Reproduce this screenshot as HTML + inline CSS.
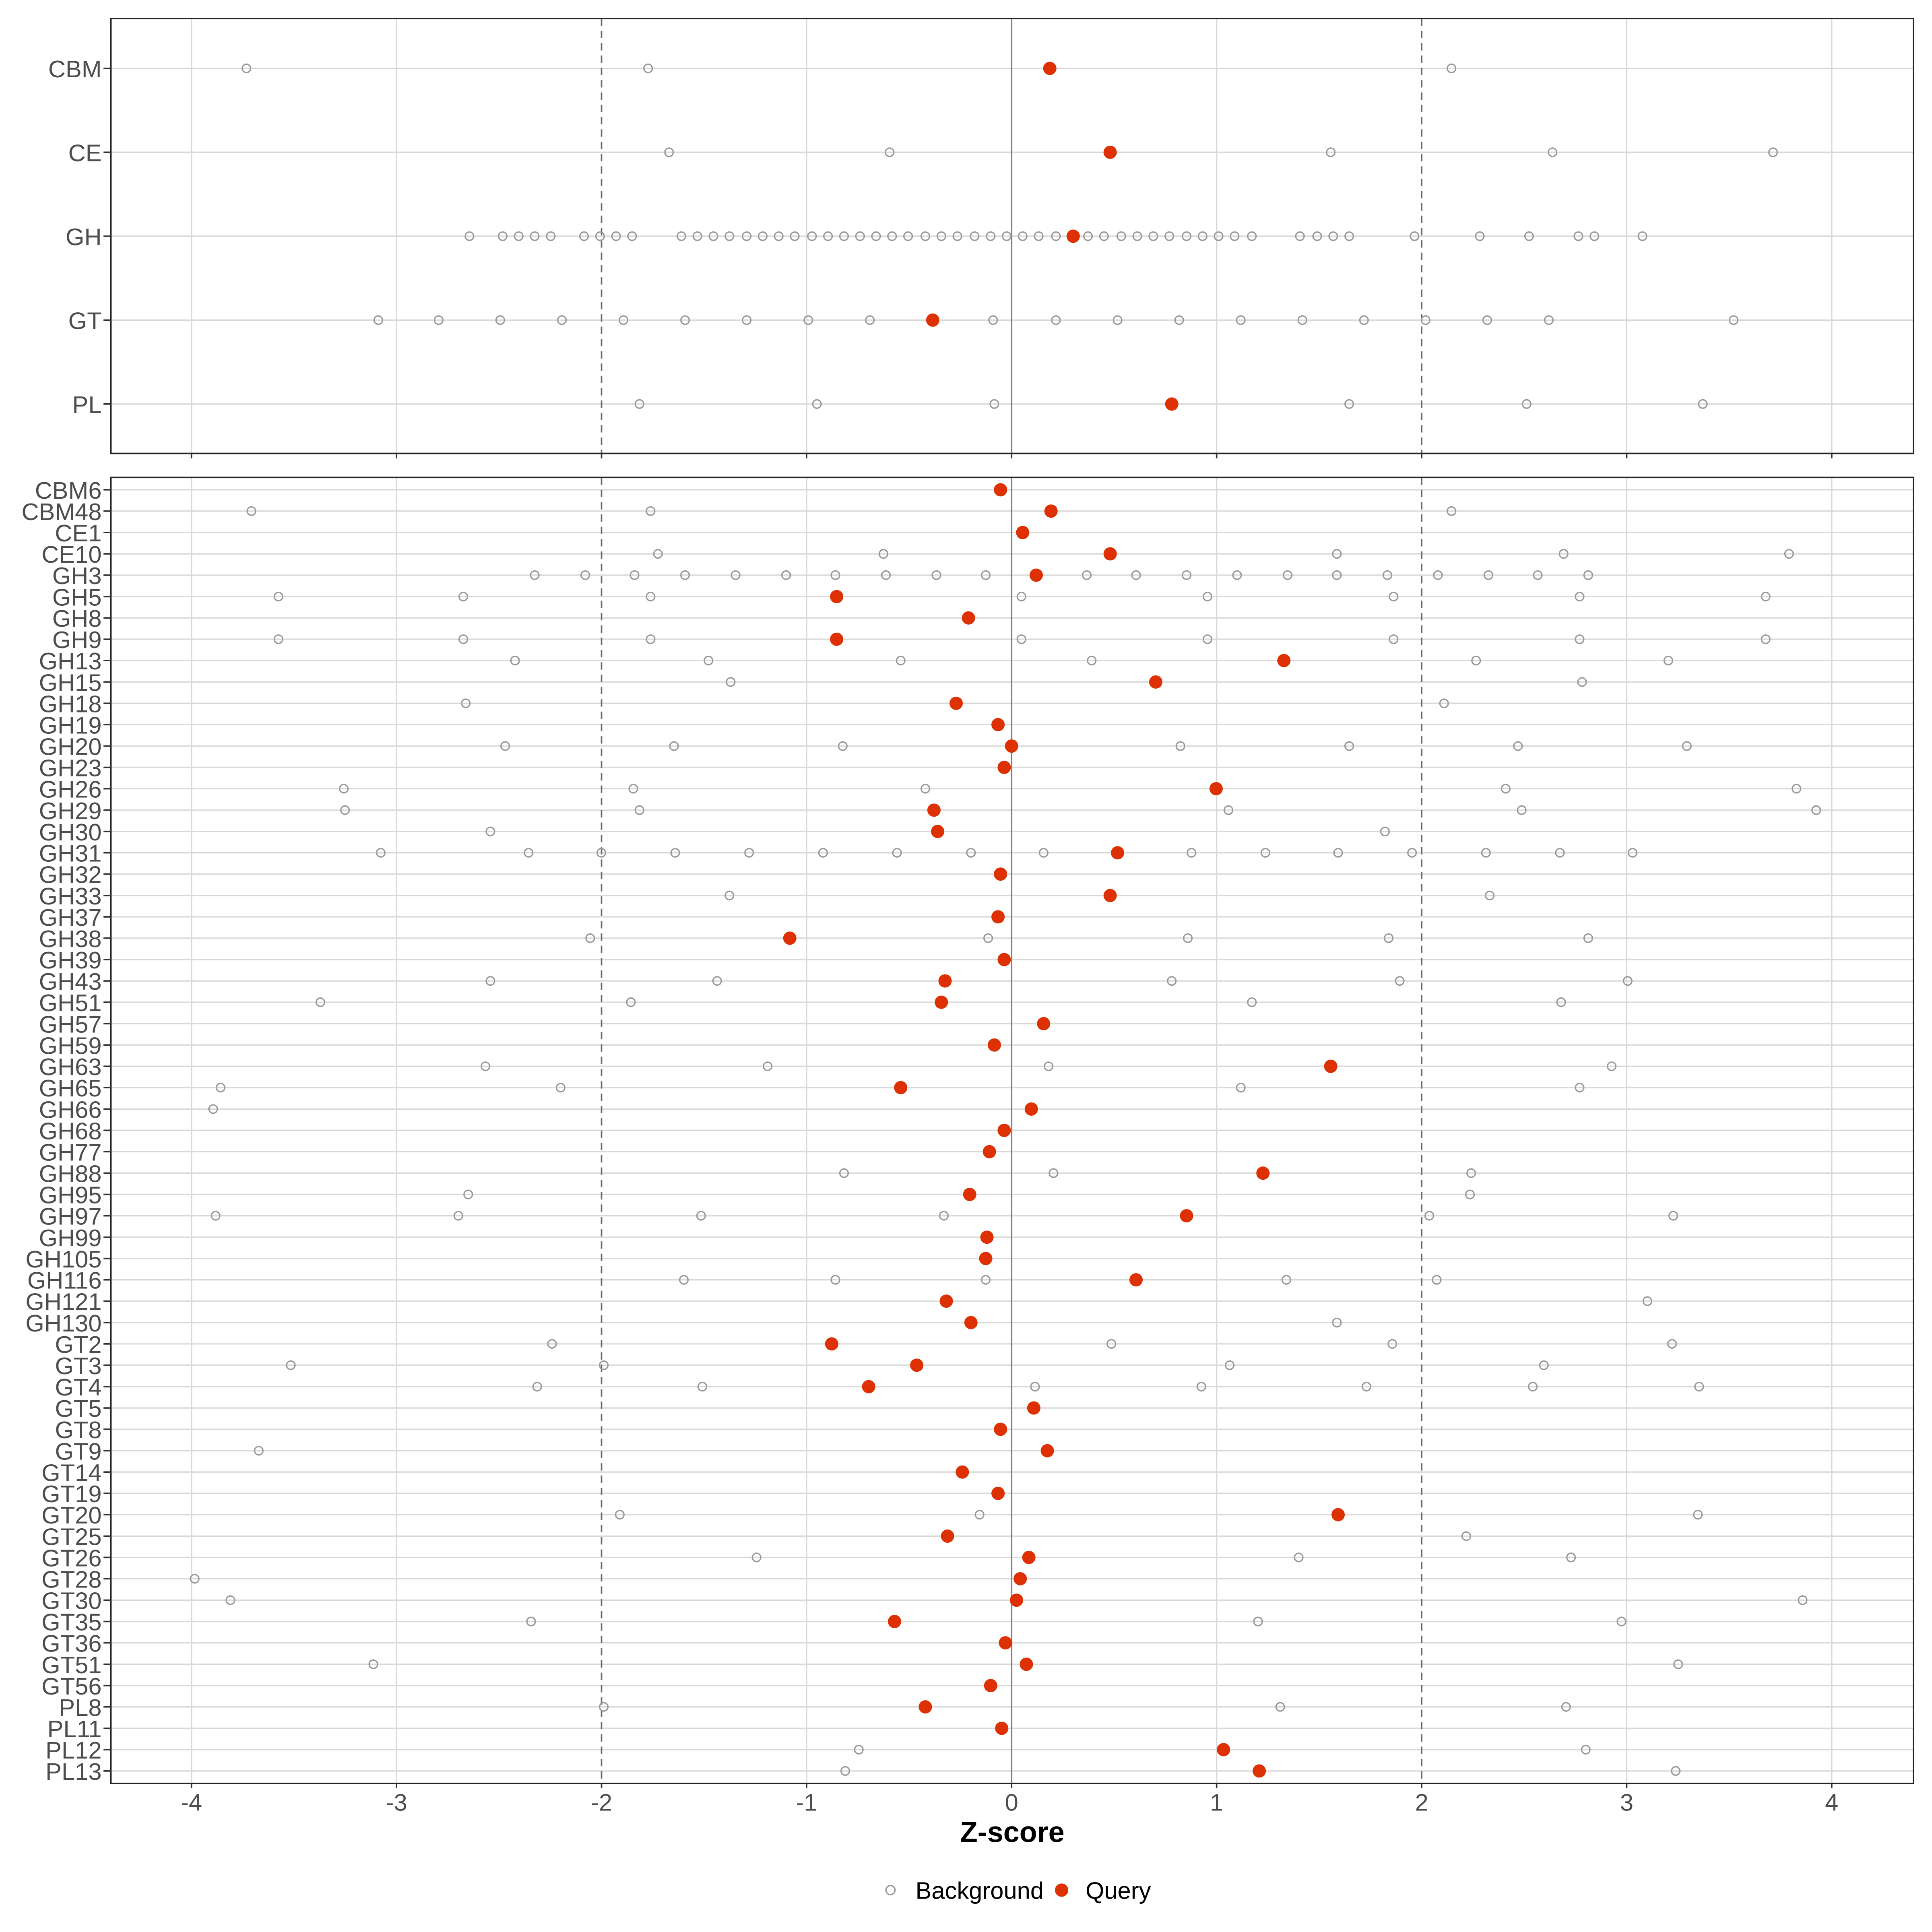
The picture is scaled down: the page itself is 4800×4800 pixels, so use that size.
<!DOCTYPE html>
<html><head><meta charset="utf-8"><style>
html,body{margin:0;padding:0;background:#fff}
svg{display:block}
.g{stroke:#d9d9d9;stroke-width:1.1}
.b{fill:none;stroke:#9a9a9a;stroke-width:1.1}
.q{fill:#dd3104}
text{font-family:"Liberation Sans",sans-serif}
.yl{font-size:19.5px;fill:#4d4d4d;text-anchor:end}
.xl{font-size:19.5px;fill:#4d4d4d;text-anchor:middle}
</style></head><body>
<svg width="4800" height="4800" viewBox="0 0 1568 1568" xmlns="http://www.w3.org/2000/svg">
<rect width="1568" height="1568" fill="#fff"/>
<defs>
<g id="vg">
<line x1="155.4" x2="155.4" class="g" y1="0" y2="1"/>
</g>
</defs>
<!-- TOP PANEL -->
<g>
<g stroke="#d9d9d9" stroke-width="1.1">
<line x1="155.4" x2="155.4" y1="15" y2="368"/><line x1="321.8" x2="321.8" y1="15" y2="368"/><line x1="654.6" x2="654.6" y1="15" y2="368"/><line x1="987.4" x2="987.4" y1="15" y2="368"/><line x1="1320.2" x2="1320.2" y1="15" y2="368"/><line x1="1486.6" x2="1486.6" y1="15" y2="368"/>
<line x1="90" x2="1553" y1="55.5" y2="55.5"/><line x1="90" x2="1553" y1="123.6" y2="123.6"/><line x1="90" x2="1553" y1="191.7" y2="191.7"/><line x1="90" x2="1553" y1="259.8" y2="259.8"/><line x1="90" x2="1553" y1="327.9" y2="327.9"/>
</g>
<line x1="821" x2="821" y1="15" y2="368" stroke="#808080" stroke-width="1.2"/>
<line x1="488.2" x2="488.2" y1="15" y2="368" stroke="#666" stroke-width="1.2" stroke-dasharray="6,4"/>
<line x1="1153.8" x2="1153.8" y1="15" y2="368" stroke="#666" stroke-width="1.2" stroke-dasharray="6,4"/>
<g transform="translate(0,55.5)"><circle class="b" cx="200" r="3.4"/><circle class="b" cx="526" r="3.4"/><circle class="b" cx="1178" r="3.4"/><circle class="q" cx="852" r="5.4"/></g>
<g transform="translate(0,123.6)"><circle class="b" cx="543" r="3.4"/><circle class="b" cx="722" r="3.4"/><circle class="b" cx="1080" r="3.4"/><circle class="b" cx="1260" r="3.4"/><circle class="b" cx="1439" r="3.4"/><circle class="q" cx="901" r="5.4"/></g>
<g transform="translate(0,191.7)">
<circle class="b" cx="381" r="3.4"/><circle class="b" cx="408" r="3.4"/><circle class="b" cx="421" r="3.4"/><circle class="b" cx="434" r="3.4"/><circle class="b" cx="447" r="3.4"/><circle class="b" cx="474" r="3.4"/><circle class="b" cx="487" r="3.4"/><circle class="b" cx="500" r="3.4"/><circle class="b" cx="513" r="3.4"/><circle class="b" cx="553" r="3.4"/><circle class="b" cx="566" r="3.4"/><circle class="b" cx="579" r="3.4"/><circle class="b" cx="592" r="3.4"/><circle class="b" cx="606" r="3.4"/><circle class="b" cx="619" r="3.4"/><circle class="b" cx="632" r="3.4"/><circle class="b" cx="645" r="3.4"/><circle class="b" cx="659" r="3.4"/><circle class="b" cx="672" r="3.4"/><circle class="b" cx="685" r="3.4"/><circle class="b" cx="698" r="3.4"/><circle class="b" cx="711" r="3.4"/><circle class="b" cx="724" r="3.4"/><circle class="b" cx="737" r="3.4"/><circle class="b" cx="751" r="3.4"/><circle class="b" cx="764" r="3.4"/><circle class="b" cx="777" r="3.4"/><circle class="b" cx="791" r="3.4"/><circle class="b" cx="804" r="3.4"/><circle class="b" cx="817" r="3.4"/><circle class="b" cx="830" r="3.4"/><circle class="b" cx="843" r="3.4"/><circle class="b" cx="857" r="3.4"/><circle class="b" cx="883" r="3.4"/><circle class="b" cx="896" r="3.4"/><circle class="b" cx="910" r="3.4"/><circle class="b" cx="923" r="3.4"/><circle class="b" cx="936" r="3.4"/><circle class="b" cx="949" r="3.4"/><circle class="b" cx="963" r="3.4"/><circle class="b" cx="976" r="3.4"/><circle class="b" cx="989" r="3.4"/><circle class="b" cx="1002" r="3.4"/><circle class="b" cx="1016" r="3.4"/><circle class="b" cx="1055" r="3.4"/><circle class="b" cx="1069" r="3.4"/><circle class="b" cx="1082" r="3.4"/><circle class="b" cx="1095" r="3.4"/><circle class="b" cx="1148" r="3.4"/><circle class="b" cx="1201" r="3.4"/><circle class="b" cx="1241" r="3.4"/><circle class="b" cx="1281" r="3.4"/><circle class="b" cx="1294" r="3.4"/><circle class="b" cx="1333" r="3.4"/><circle class="q" cx="871" r="5.4"/></g>
<g transform="translate(0,259.8)"><circle class="b" cx="307" r="3.4"/><circle class="b" cx="356" r="3.4"/><circle class="b" cx="406" r="3.4"/><circle class="b" cx="456" r="3.4"/><circle class="b" cx="506" r="3.4"/><circle class="b" cx="556" r="3.4"/><circle class="b" cx="606" r="3.4"/><circle class="b" cx="656" r="3.4"/><circle class="b" cx="706" r="3.4"/><circle class="b" cx="806" r="3.4"/><circle class="b" cx="857" r="3.4"/><circle class="b" cx="907" r="3.4"/><circle class="b" cx="957" r="3.4"/><circle class="b" cx="1007" r="3.4"/><circle class="b" cx="1057" r="3.4"/><circle class="b" cx="1107" r="3.4"/><circle class="b" cx="1157" r="3.4"/><circle class="b" cx="1207" r="3.4"/><circle class="b" cx="1257" r="3.4"/><circle class="b" cx="1407" r="3.4"/><circle class="q" cx="757" r="5.4"/></g>
<g transform="translate(0,327.9)"><circle class="b" cx="519" r="3.4"/><circle class="b" cx="663" r="3.4"/><circle class="b" cx="807" r="3.4"/><circle class="b" cx="1095" r="3.4"/><circle class="b" cx="1239" r="3.4"/><circle class="b" cx="1382" r="3.4"/><circle class="q" cx="951" r="5.4"/></g>
<rect x="90" y="15" width="1463" height="353" fill="none" stroke="#222" stroke-width="1.2"/>
<g stroke="#333" stroke-width="1.2">
<line x1="84" x2="90" y1="55.5" y2="55.5"/><line x1="84" x2="90" y1="123.6" y2="123.6"/><line x1="84" x2="90" y1="191.7" y2="191.7"/><line x1="84" x2="90" y1="259.8" y2="259.8"/><line x1="84" x2="90" y1="327.9" y2="327.9"/>
<line x1="155.4" x2="155.4" y1="368" y2="372"/><line x1="321.8" x2="321.8" y1="368" y2="372"/><line x1="488.2" x2="488.2" y1="368" y2="372"/><line x1="654.6" x2="654.6" y1="368" y2="372"/><line x1="821" x2="821" y1="368" y2="372"/><line x1="987.4" x2="987.4" y1="368" y2="372"/><line x1="1153.8" x2="1153.8" y1="368" y2="372"/><line x1="1320.2" x2="1320.2" y1="368" y2="372"/><line x1="1486.6" x2="1486.6" y1="368" y2="372"/>
</g>
<text class="yl" x="82.5" y="62.7">CBM</text><text class="yl" x="82.5" y="130.8">CE</text><text class="yl" x="82.5" y="198.9">GH</text><text class="yl" x="82.5" y="267">GT</text><text class="yl" x="82.5" y="335.1">PL</text>
</g>

<!-- BOTTOM PANEL -->
<g>
<g stroke="#d9d9d9" stroke-width="1.1">
<line x1="155.4" x2="155.4" y1="387.5" y2="1447.4"/><line x1="321.8" x2="321.8" y1="387.5" y2="1447.4"/><line x1="654.6" x2="654.6" y1="387.5" y2="1447.4"/><line x1="987.4" x2="987.4" y1="387.5" y2="1447.4"/><line x1="1320.2" x2="1320.2" y1="387.5" y2="1447.4"/><line x1="1486.6" x2="1486.6" y1="387.5" y2="1447.4"/>
</g>
<g stroke="#d9d9d9" stroke-width="1.1">
<line x1="90" x2="1553" y1="397.5" y2="397.5"/><line x1="90" x2="1553" y1="414.8" y2="414.8"/><line x1="90" x2="1553" y1="432.2" y2="432.2"/><line x1="90" x2="1553" y1="449.5" y2="449.5"/><line x1="90" x2="1553" y1="466.8" y2="466.8"/><line x1="90" x2="1553" y1="484.2" y2="484.2"/><line x1="90" x2="1553" y1="501.5" y2="501.5"/><line x1="90" x2="1553" y1="518.8" y2="518.8"/><line x1="90" x2="1553" y1="536.1" y2="536.1"/><line x1="90" x2="1553" y1="553.5" y2="553.5"/><line x1="90" x2="1553" y1="570.8" y2="570.8"/><line x1="90" x2="1553" y1="588.1" y2="588.1"/><line x1="90" x2="1553" y1="605.5" y2="605.5"/><line x1="90" x2="1553" y1="622.8" y2="622.8"/><line x1="90" x2="1553" y1="640.1" y2="640.1"/><line x1="90" x2="1553" y1="657.5" y2="657.5"/><line x1="90" x2="1553" y1="674.8" y2="674.8"/><line x1="90" x2="1553" y1="692.1" y2="692.1"/><line x1="90" x2="1553" y1="709.4" y2="709.4"/><line x1="90" x2="1553" y1="726.8" y2="726.8"/><line x1="90" x2="1553" y1="744.1" y2="744.1"/><line x1="90" x2="1553" y1="761.4" y2="761.4"/><line x1="90" x2="1553" y1="778.8" y2="778.8"/><line x1="90" x2="1553" y1="796.1" y2="796.1"/><line x1="90" x2="1553" y1="813.4" y2="813.4"/><line x1="90" x2="1553" y1="830.8" y2="830.8"/><line x1="90" x2="1553" y1="848.1" y2="848.1"/><line x1="90" x2="1553" y1="865.4" y2="865.4"/><line x1="90" x2="1553" y1="882.7" y2="882.7"/><line x1="90" x2="1553" y1="900.1" y2="900.1"/><line x1="90" x2="1553" y1="917.4" y2="917.4"/><line x1="90" x2="1553" y1="934.7" y2="934.7"/><line x1="90" x2="1553" y1="952.1" y2="952.1"/><line x1="90" x2="1553" y1="969.4" y2="969.4"/><line x1="90" x2="1553" y1="986.7" y2="986.7"/><line x1="90" x2="1553" y1="1004.1" y2="1004.1"/><line x1="90" x2="1553" y1="1021.4" y2="1021.4"/><line x1="90" x2="1553" y1="1038.7" y2="1038.7"/><line x1="90" x2="1553" y1="1056" y2="1056"/><line x1="90" x2="1553" y1="1073.4" y2="1073.4"/><line x1="90" x2="1553" y1="1090.7" y2="1090.7"/><line x1="90" x2="1553" y1="1108" y2="1108"/><line x1="90" x2="1553" y1="1125.4" y2="1125.4"/><line x1="90" x2="1553" y1="1142.7" y2="1142.7"/><line x1="90" x2="1553" y1="1160" y2="1160"/><line x1="90" x2="1553" y1="1177.4" y2="1177.4"/><line x1="90" x2="1553" y1="1194.7" y2="1194.7"/><line x1="90" x2="1553" y1="1212" y2="1212"/><line x1="90" x2="1553" y1="1229.3" y2="1229.3"/><line x1="90" x2="1553" y1="1246.7" y2="1246.7"/><line x1="90" x2="1553" y1="1264" y2="1264"/><line x1="90" x2="1553" y1="1281.3" y2="1281.3"/><line x1="90" x2="1553" y1="1298.7" y2="1298.7"/><line x1="90" x2="1553" y1="1316" y2="1316"/><line x1="90" x2="1553" y1="1333.3" y2="1333.3"/><line x1="90" x2="1553" y1="1350.7" y2="1350.7"/><line x1="90" x2="1553" y1="1368" y2="1368"/><line x1="90" x2="1553" y1="1385.3" y2="1385.3"/><line x1="90" x2="1553" y1="1402.7" y2="1402.7"/><line x1="90" x2="1553" y1="1420" y2="1420"/><line x1="90" x2="1553" y1="1437.3" y2="1437.3"/>
</g>
<line x1="821" x2="821" y1="387.5" y2="1447.4" stroke="#808080" stroke-width="1.2"/>
<line x1="488.2" x2="488.2" y1="387.5" y2="1447.4" stroke="#666" stroke-width="1.2" stroke-dasharray="6,4"/>
<line x1="1153.8" x2="1153.8" y1="387.5" y2="1447.4" stroke="#666" stroke-width="1.2" stroke-dasharray="6,4"/>

<g transform="translate(0,397.5)"><circle class="q" cx="812" r="5.4"/></g>
<g transform="translate(0,414.8)"><circle class="b" cx="204" r="3.4"/><circle class="b" cx="528" r="3.4"/><circle class="b" cx="1178" r="3.4"/><circle class="q" cx="853" r="5.4"/></g>
<g transform="translate(0,432.2)"><circle class="q" cx="830" r="5.4"/></g>
<g transform="translate(0,449.5)"><circle class="b" cx="534" r="3.4"/><circle class="b" cx="717" r="3.4"/><circle class="b" cx="1085" r="3.4"/><circle class="b" cx="1269" r="3.4"/><circle class="b" cx="1452" r="3.4"/><circle class="q" cx="901" r="5.4"/></g>
<g transform="translate(0,466.8)"><circle class="b" cx="434" r="3.4"/><circle class="b" cx="475" r="3.4"/><circle class="b" cx="515" r="3.4"/><circle class="b" cx="556" r="3.4"/><circle class="b" cx="597" r="3.4"/><circle class="b" cx="638" r="3.4"/><circle class="b" cx="678" r="3.4"/><circle class="b" cx="719" r="3.4"/><circle class="b" cx="760" r="3.4"/><circle class="b" cx="800" r="3.4"/><circle class="b" cx="882" r="3.4"/><circle class="b" cx="922" r="3.4"/><circle class="b" cx="963" r="3.4"/><circle class="b" cx="1004" r="3.4"/><circle class="b" cx="1045" r="3.4"/><circle class="b" cx="1085" r="3.4"/><circle class="b" cx="1126" r="3.4"/><circle class="b" cx="1167" r="3.4"/><circle class="b" cx="1208" r="3.4"/><circle class="b" cx="1248" r="3.4"/><circle class="b" cx="1289" r="3.4"/><circle class="q" cx="841" r="5.4"/></g>
<g transform="translate(0,484.2)"><circle class="b" cx="226" r="3.4"/><circle class="b" cx="376" r="3.4"/><circle class="b" cx="528" r="3.4"/><circle class="b" cx="829" r="3.4"/><circle class="b" cx="980" r="3.4"/><circle class="b" cx="1131" r="3.4"/><circle class="b" cx="1282" r="3.4"/><circle class="b" cx="1433" r="3.4"/><circle class="q" cx="679" r="5.4"/></g>
<g transform="translate(0,501.5)"><circle class="q" cx="786" r="5.4"/></g>
<g transform="translate(0,518.8)"><circle class="b" cx="226" r="3.4"/><circle class="b" cx="376" r="3.4"/><circle class="b" cx="528" r="3.4"/><circle class="b" cx="829" r="3.4"/><circle class="b" cx="980" r="3.4"/><circle class="b" cx="1131" r="3.4"/><circle class="b" cx="1282" r="3.4"/><circle class="b" cx="1433" r="3.4"/><circle class="q" cx="679" r="5.4"/></g>
<g transform="translate(0,536.1)"><circle class="b" cx="418" r="3.4"/><circle class="b" cx="575" r="3.4"/><circle class="b" cx="731" r="3.4"/><circle class="b" cx="886" r="3.4"/><circle class="b" cx="1198" r="3.4"/><circle class="b" cx="1354" r="3.4"/><circle class="q" cx="1042" r="5.4"/></g>
<g transform="translate(0,553.5)"><circle class="b" cx="593" r="3.4"/><circle class="b" cx="1284" r="3.4"/><circle class="q" cx="938" r="5.4"/></g>
<g transform="translate(0,570.8)"><circle class="b" cx="378" r="3.4"/><circle class="b" cx="1172" r="3.4"/><circle class="q" cx="776" r="5.4"/></g>
<g transform="translate(0,588.1)"><circle class="q" cx="810" r="5.4"/></g>
<g transform="translate(0,605.5)"><circle class="b" cx="410" r="3.4"/><circle class="b" cx="547" r="3.4"/><circle class="b" cx="684" r="3.4"/><circle class="b" cx="958" r="3.4"/><circle class="b" cx="1095" r="3.4"/><circle class="b" cx="1232" r="3.4"/><circle class="b" cx="1369" r="3.4"/><circle class="q" cx="821" r="5.4"/></g>
<g transform="translate(0,622.8)"><circle class="q" cx="815" r="5.4"/></g>
<g transform="translate(0,640.1)"><circle class="b" cx="279" r="3.4"/><circle class="b" cx="514" r="3.4"/><circle class="b" cx="751" r="3.4"/><circle class="b" cx="1222" r="3.4"/><circle class="b" cx="1458" r="3.4"/><circle class="q" cx="987" r="5.4"/></g>
<g transform="translate(0,657.5)"><circle class="b" cx="280" r="3.4"/><circle class="b" cx="519" r="3.4"/><circle class="b" cx="997" r="3.4"/><circle class="b" cx="1235" r="3.4"/><circle class="b" cx="1474" r="3.4"/><circle class="q" cx="758" r="5.4"/></g>
<g transform="translate(0,674.8)"><circle class="b" cx="398" r="3.4"/><circle class="b" cx="1124" r="3.4"/><circle class="q" cx="761" r="5.4"/></g>
<g transform="translate(0,692.1)"><circle class="b" cx="309" r="3.4"/><circle class="b" cx="429" r="3.4"/><circle class="b" cx="488" r="3.4"/><circle class="b" cx="548" r="3.4"/><circle class="b" cx="608" r="3.4"/><circle class="b" cx="668" r="3.4"/><circle class="b" cx="728" r="3.4"/><circle class="b" cx="788" r="3.4"/><circle class="b" cx="847" r="3.4"/><circle class="b" cx="967" r="3.4"/><circle class="b" cx="1027" r="3.4"/><circle class="b" cx="1086" r="3.4"/><circle class="b" cx="1146" r="3.4"/><circle class="b" cx="1206" r="3.4"/><circle class="b" cx="1266" r="3.4"/><circle class="b" cx="1325" r="3.4"/><circle class="q" cx="907" r="5.4"/></g>
<g transform="translate(0,709.4)"><circle class="q" cx="812" r="5.4"/></g>
<g transform="translate(0,726.8)"><circle class="b" cx="592" r="3.4"/><circle class="b" cx="1209" r="3.4"/><circle class="q" cx="901" r="5.4"/></g>
<g transform="translate(0,744.1)"><circle class="q" cx="810" r="5.4"/></g>
<g transform="translate(0,761.4)"><circle class="b" cx="479" r="3.4"/><circle class="b" cx="802" r="3.4"/><circle class="b" cx="964" r="3.4"/><circle class="b" cx="1127" r="3.4"/><circle class="b" cx="1289" r="3.4"/><circle class="q" cx="641" r="5.4"/></g>
<g transform="translate(0,778.8)"><circle class="q" cx="815" r="5.4"/></g>
<g transform="translate(0,796.1)"><circle class="b" cx="398" r="3.4"/><circle class="b" cx="582" r="3.4"/><circle class="b" cx="951" r="3.4"/><circle class="b" cx="1136" r="3.4"/><circle class="b" cx="1321" r="3.4"/><circle class="q" cx="767" r="5.4"/></g>
<g transform="translate(0,813.4)"><circle class="b" cx="260" r="3.4"/><circle class="b" cx="512" r="3.4"/><circle class="b" cx="1016" r="3.4"/><circle class="b" cx="1267" r="3.4"/><circle class="q" cx="764" r="5.4"/></g>
<g transform="translate(0,830.8)"><circle class="q" cx="847" r="5.4"/></g>
<g transform="translate(0,848.1)"><circle class="q" cx="807" r="5.4"/></g>
<g transform="translate(0,865.4)"><circle class="b" cx="394" r="3.4"/><circle class="b" cx="623" r="3.4"/><circle class="b" cx="851" r="3.4"/><circle class="b" cx="1308" r="3.4"/><circle class="q" cx="1080" r="5.4"/></g>
<g transform="translate(0,882.7)"><circle class="b" cx="179" r="3.4"/><circle class="b" cx="455" r="3.4"/><circle class="b" cx="1007" r="3.4"/><circle class="b" cx="1282" r="3.4"/><circle class="q" cx="731" r="5.4"/></g>
<g transform="translate(0,900.1)"><circle class="b" cx="173" r="3.4"/><circle class="q" cx="837" r="5.4"/></g>
<g transform="translate(0,917.4)"><circle class="q" cx="815" r="5.4"/></g>
<g transform="translate(0,934.7)"><circle class="q" cx="803" r="5.4"/></g>
<g transform="translate(0,952.1)"><circle class="b" cx="685" r="3.4"/><circle class="b" cx="855" r="3.4"/><circle class="b" cx="1194" r="3.4"/><circle class="q" cx="1025" r="5.4"/></g>
<g transform="translate(0,969.4)"><circle class="b" cx="380" r="3.4"/><circle class="b" cx="1193" r="3.4"/><circle class="q" cx="787" r="5.4"/></g>
<g transform="translate(0,986.7)"><circle class="b" cx="175" r="3.4"/><circle class="b" cx="372" r="3.4"/><circle class="b" cx="569" r="3.4"/><circle class="b" cx="766" r="3.4"/><circle class="b" cx="1160" r="3.4"/><circle class="b" cx="1358" r="3.4"/><circle class="q" cx="963" r="5.4"/></g>
<g transform="translate(0,1004.1)"><circle class="q" cx="801" r="5.4"/></g>
<g transform="translate(0,1021.4)"><circle class="q" cx="800" r="5.4"/></g>
<g transform="translate(0,1038.7)"><circle class="b" cx="555" r="3.4"/><circle class="b" cx="678" r="3.4"/><circle class="b" cx="800" r="3.4"/><circle class="b" cx="1044" r="3.4"/><circle class="b" cx="1166" r="3.4"/><circle class="q" cx="922" r="5.4"/></g>
<g transform="translate(0,1056)"><circle class="b" cx="1337" r="3.4"/><circle class="q" cx="768" r="5.4"/></g>
<g transform="translate(0,1073.4)"><circle class="b" cx="1085" r="3.4"/><circle class="q" cx="788" r="5.4"/></g>
<g transform="translate(0,1090.7)"><circle class="b" cx="448" r="3.4"/><circle class="b" cx="902" r="3.4"/><circle class="b" cx="1130" r="3.4"/><circle class="b" cx="1357" r="3.4"/><circle class="q" cx="675" r="5.4"/></g>
<g transform="translate(0,1108)"><circle class="b" cx="236" r="3.4"/><circle class="b" cx="490" r="3.4"/><circle class="b" cx="998" r="3.4"/><circle class="b" cx="1253" r="3.4"/><circle class="q" cx="744" r="5.4"/></g>
<g transform="translate(0,1125.4)"><circle class="b" cx="436" r="3.4"/><circle class="b" cx="570" r="3.4"/><circle class="b" cx="840" r="3.4"/><circle class="b" cx="975" r="3.4"/><circle class="b" cx="1109" r="3.4"/><circle class="b" cx="1244" r="3.4"/><circle class="b" cx="1379" r="3.4"/><circle class="q" cx="705" r="5.4"/></g>
<g transform="translate(0,1142.7)"><circle class="q" cx="839" r="5.4"/></g>
<g transform="translate(0,1160)"><circle class="q" cx="812" r="5.4"/></g>
<g transform="translate(0,1177.4)"><circle class="b" cx="210" r="3.4"/><circle class="q" cx="850" r="5.4"/></g>
<g transform="translate(0,1194.7)"><circle class="q" cx="781" r="5.4"/></g>
<g transform="translate(0,1212)"><circle class="q" cx="810" r="5.4"/></g>
<g transform="translate(0,1229.3)"><circle class="b" cx="503" r="3.4"/><circle class="b" cx="795" r="3.4"/><circle class="b" cx="1378" r="3.4"/><circle class="q" cx="1086" r="5.4"/></g>
<g transform="translate(0,1246.7)"><circle class="b" cx="1190" r="3.4"/><circle class="q" cx="769" r="5.4"/></g>
<g transform="translate(0,1264)"><circle class="b" cx="614" r="3.4"/><circle class="b" cx="1054" r="3.4"/><circle class="b" cx="1275" r="3.4"/><circle class="q" cx="835" r="5.4"/></g>
<g transform="translate(0,1281.3)"><circle class="b" cx="158" r="3.4"/><circle class="q" cx="828" r="5.4"/></g>
<g transform="translate(0,1298.7)"><circle class="b" cx="187" r="3.4"/><circle class="b" cx="1463" r="3.4"/><circle class="q" cx="825" r="5.4"/></g>
<g transform="translate(0,1316)"><circle class="b" cx="431" r="3.4"/><circle class="b" cx="1021" r="3.4"/><circle class="b" cx="1316" r="3.4"/><circle class="q" cx="726" r="5.4"/></g>
<g transform="translate(0,1333.3)"><circle class="q" cx="816" r="5.4"/></g>
<g transform="translate(0,1350.7)"><circle class="b" cx="303" r="3.4"/><circle class="b" cx="1362" r="3.4"/><circle class="q" cx="833" r="5.4"/></g>
<g transform="translate(0,1368)"><circle class="q" cx="804" r="5.4"/></g>
<g transform="translate(0,1385.3)"><circle class="b" cx="490" r="3.4"/><circle class="b" cx="1039" r="3.4"/><circle class="b" cx="1271" r="3.4"/><circle class="q" cx="751" r="5.4"/></g>
<g transform="translate(0,1402.7)"><circle class="q" cx="813" r="5.4"/></g>
<g transform="translate(0,1420)"><circle class="b" cx="697" r="3.4"/><circle class="b" cx="1287" r="3.4"/><circle class="q" cx="993" r="5.4"/></g>
<g transform="translate(0,1437.3)"><circle class="b" cx="686" r="3.4"/><circle class="b" cx="1360" r="3.4"/><circle class="q" cx="1022" r="5.4"/></g>

<rect x="90" y="387.5" width="1463" height="1059.9" fill="none" stroke="#222" stroke-width="1.2"/>
<g stroke="#333" stroke-width="1.2">
<line x1="155.4" x2="155.4" y1="1447.4" y2="1451.4"/><line x1="321.8" x2="321.8" y1="1447.4" y2="1451.4"/><line x1="488.2" x2="488.2" y1="1447.4" y2="1451.4"/><line x1="654.6" x2="654.6" y1="1447.4" y2="1451.4"/><line x1="821" x2="821" y1="1447.4" y2="1451.4"/><line x1="987.4" x2="987.4" y1="1447.4" y2="1451.4"/><line x1="1153.8" x2="1153.8" y1="1447.4" y2="1451.4"/><line x1="1320.2" x2="1320.2" y1="1447.4" y2="1451.4"/><line x1="1486.6" x2="1486.6" y1="1447.4" y2="1451.4"/>
</g>
<g stroke="#333" stroke-width="1.2">
<line x1="84" x2="90" y1="397.5" y2="397.5"/><line x1="84" x2="90" y1="414.8" y2="414.8"/><line x1="84" x2="90" y1="432.2" y2="432.2"/><line x1="84" x2="90" y1="449.5" y2="449.5"/><line x1="84" x2="90" y1="466.8" y2="466.8"/><line x1="84" x2="90" y1="484.2" y2="484.2"/><line x1="84" x2="90" y1="501.5" y2="501.5"/><line x1="84" x2="90" y1="518.8" y2="518.8"/><line x1="84" x2="90" y1="536.1" y2="536.1"/><line x1="84" x2="90" y1="553.5" y2="553.5"/><line x1="84" x2="90" y1="570.8" y2="570.8"/><line x1="84" x2="90" y1="588.1" y2="588.1"/><line x1="84" x2="90" y1="605.5" y2="605.5"/><line x1="84" x2="90" y1="622.8" y2="622.8"/><line x1="84" x2="90" y1="640.1" y2="640.1"/><line x1="84" x2="90" y1="657.5" y2="657.5"/><line x1="84" x2="90" y1="674.8" y2="674.8"/><line x1="84" x2="90" y1="692.1" y2="692.1"/><line x1="84" x2="90" y1="709.4" y2="709.4"/><line x1="84" x2="90" y1="726.8" y2="726.8"/><line x1="84" x2="90" y1="744.1" y2="744.1"/><line x1="84" x2="90" y1="761.4" y2="761.4"/><line x1="84" x2="90" y1="778.8" y2="778.8"/><line x1="84" x2="90" y1="796.1" y2="796.1"/><line x1="84" x2="90" y1="813.4" y2="813.4"/><line x1="84" x2="90" y1="830.8" y2="830.8"/><line x1="84" x2="90" y1="848.1" y2="848.1"/><line x1="84" x2="90" y1="865.4" y2="865.4"/><line x1="84" x2="90" y1="882.7" y2="882.7"/><line x1="84" x2="90" y1="900.1" y2="900.1"/><line x1="84" x2="90" y1="917.4" y2="917.4"/><line x1="84" x2="90" y1="934.7" y2="934.7"/><line x1="84" x2="90" y1="952.1" y2="952.1"/><line x1="84" x2="90" y1="969.4" y2="969.4"/><line x1="84" x2="90" y1="986.7" y2="986.7"/><line x1="84" x2="90" y1="1004.1" y2="1004.1"/><line x1="84" x2="90" y1="1021.4" y2="1021.4"/><line x1="84" x2="90" y1="1038.7" y2="1038.7"/><line x1="84" x2="90" y1="1056" y2="1056"/><line x1="84" x2="90" y1="1073.4" y2="1073.4"/><line x1="84" x2="90" y1="1090.7" y2="1090.7"/><line x1="84" x2="90" y1="1108" y2="1108"/><line x1="84" x2="90" y1="1125.4" y2="1125.4"/><line x1="84" x2="90" y1="1142.7" y2="1142.7"/><line x1="84" x2="90" y1="1160" y2="1160"/><line x1="84" x2="90" y1="1177.4" y2="1177.4"/><line x1="84" x2="90" y1="1194.7" y2="1194.7"/><line x1="84" x2="90" y1="1212" y2="1212"/><line x1="84" x2="90" y1="1229.3" y2="1229.3"/><line x1="84" x2="90" y1="1246.7" y2="1246.7"/><line x1="84" x2="90" y1="1264" y2="1264"/><line x1="84" x2="90" y1="1281.3" y2="1281.3"/><line x1="84" x2="90" y1="1298.7" y2="1298.7"/><line x1="84" x2="90" y1="1316" y2="1316"/><line x1="84" x2="90" y1="1333.3" y2="1333.3"/><line x1="84" x2="90" y1="1350.7" y2="1350.7"/><line x1="84" x2="90" y1="1368" y2="1368"/><line x1="84" x2="90" y1="1385.3" y2="1385.3"/><line x1="84" x2="90" y1="1402.7" y2="1402.7"/><line x1="84" x2="90" y1="1420" y2="1420"/><line x1="84" x2="90" y1="1437.3" y2="1437.3"/>
</g>
<text class="yl" x="82.5" y="404.7">CBM6</text>
<text class="yl" x="82.5" y="422">CBM48</text>
<text class="yl" x="82.5" y="439.4">CE1</text>
<text class="yl" x="82.5" y="456.7">CE10</text>
<text class="yl" x="82.5" y="474">GH3</text>
<text class="yl" x="82.5" y="491.4">GH5</text>
<text class="yl" x="82.5" y="508.7">GH8</text>
<text class="yl" x="82.5" y="526">GH9</text>
<text class="yl" x="82.5" y="543.3">GH13</text>
<text class="yl" x="82.5" y="560.7">GH15</text>
<text class="yl" x="82.5" y="578">GH18</text>
<text class="yl" x="82.5" y="595.3">GH19</text>
<text class="yl" x="82.5" y="612.7">GH20</text>
<text class="yl" x="82.5" y="630">GH23</text>
<text class="yl" x="82.5" y="647.3">GH26</text>
<text class="yl" x="82.5" y="664.7">GH29</text>
<text class="yl" x="82.5" y="682">GH30</text>
<text class="yl" x="82.5" y="699.3">GH31</text>
<text class="yl" x="82.5" y="716.6">GH32</text>
<text class="yl" x="82.5" y="734">GH33</text>
<text class="yl" x="82.5" y="751.3">GH37</text>
<text class="yl" x="82.5" y="768.6">GH38</text>
<text class="yl" x="82.5" y="786">GH39</text>
<text class="yl" x="82.5" y="803.3">GH43</text>
<text class="yl" x="82.5" y="820.6">GH51</text>
<text class="yl" x="82.5" y="838">GH57</text>
<text class="yl" x="82.5" y="855.3">GH59</text>
<text class="yl" x="82.5" y="872.6">GH63</text>
<text class="yl" x="82.5" y="889.9">GH65</text>
<text class="yl" x="82.5" y="907.3">GH66</text>
<text class="yl" x="82.5" y="924.6">GH68</text>
<text class="yl" x="82.5" y="941.9">GH77</text>
<text class="yl" x="82.5" y="959.3">GH88</text>
<text class="yl" x="82.5" y="976.6">GH95</text>
<text class="yl" x="82.5" y="993.9">GH97</text>
<text class="yl" x="82.5" y="1011.3">GH99</text>
<text class="yl" x="82.5" y="1028.6">GH105</text>
<text class="yl" x="82.5" y="1045.9">GH116</text>
<text class="yl" x="82.5" y="1063.2">GH121</text>
<text class="yl" x="82.5" y="1080.6">GH130</text>
<text class="yl" x="82.5" y="1097.9">GT2</text>
<text class="yl" x="82.5" y="1115.2">GT3</text>
<text class="yl" x="82.5" y="1132.6">GT4</text>
<text class="yl" x="82.5" y="1149.9">GT5</text>
<text class="yl" x="82.5" y="1167.2">GT8</text>
<text class="yl" x="82.5" y="1184.6">GT9</text>
<text class="yl" x="82.5" y="1201.9">GT14</text>
<text class="yl" x="82.5" y="1219.2">GT19</text>
<text class="yl" x="82.5" y="1236.5">GT20</text>
<text class="yl" x="82.5" y="1253.9">GT25</text>
<text class="yl" x="82.5" y="1271.2">GT26</text>
<text class="yl" x="82.5" y="1288.5">GT28</text>
<text class="yl" x="82.5" y="1305.9">GT30</text>
<text class="yl" x="82.5" y="1323.2">GT35</text>
<text class="yl" x="82.5" y="1340.5">GT36</text>
<text class="yl" x="82.5" y="1357.9">GT51</text>
<text class="yl" x="82.5" y="1375.2">GT56</text>
<text class="yl" x="82.5" y="1392.5">PL8</text>
<text class="yl" x="82.5" y="1409.9">PL11</text>
<text class="yl" x="82.5" y="1427.2">PL12</text>
<text class="yl" x="82.5" y="1444.5">PL13</text>

<text class="xl" x="155.4" y="1469.5">-4</text>
<text class="xl" x="321.8" y="1469.5">-3</text>
<text class="xl" x="488.2" y="1469.5">-2</text>
<text class="xl" x="654.6" y="1469.5">-1</text>
<text class="xl" x="821" y="1469.5">0</text>
<text class="xl" x="987.4" y="1469.5">1</text>
<text class="xl" x="1153.8" y="1469.5">2</text>
<text class="xl" x="1320.2" y="1469.5">3</text>
<text class="xl" x="1486.6" y="1469.5">4</text>
</g>

<text x="821.5" y="1495" font-size="23.5" font-weight="bold" text-anchor="middle" fill="#000">Z-score</text>

<circle cx="722.7" cy="1534" r="3.7" fill="none" stroke="#9a9a9a" stroke-width="1.1"/>
<text x="743" y="1541" font-size="19.5" fill="#000">Background</text>
<circle cx="861.6" cy="1534" r="5.4" fill="#dd3104"/>
<text x="881" y="1541" font-size="19.5" fill="#000">Query</text>
</svg>
</body></html>
